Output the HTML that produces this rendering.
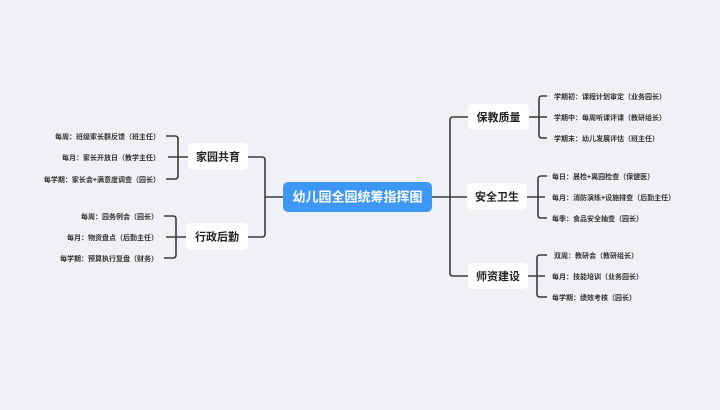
<!DOCTYPE html>
<html><head><meta charset="utf-8"><style>
html,body{margin:0;padding:0;}
body{width:720px;height:405px;background:#eff1f4;overflow:hidden;}
svg text{font-family:"Liberation Sans","Noto Sans CJK SC",sans-serif;}
</style></head><body>
<svg width="720" height="405" viewBox="0 0 720 405" xmlns="http://www.w3.org/2000/svg">
<g fill="none" stroke="#3a3a3a" stroke-width="1.6">
<path d="M283 197 H265"/>
<path d="M248 157 H262 Q265 157 265 160 V234 Q265 237 262 237 H248"/>
<path d="M432 197 H467"/>
<path d="M468 117 H453 Q450 117 450 120 V273 Q450 276 453 276 H468"/>
<path d="M188 157 H168"/>
<path d="M166 136 H175 Q178 136 178 139 V176 Q178 179 175 179 H166"/>
<path d="M186 237 H166"/>
<path d="M164 216 H173 Q176 216 176 219 V255 Q176 258 173 258 H164"/>
<path d="M529 117 H547"/>
<path d="M547 96 H542 Q539 96 539 99 V135 Q539 138 542 138 H547"/>
<path d="M527 197 H545"/>
<path d="M547 176 H541 Q538 176 538 179 V215 Q538 218 541 218 H547"/>
<path d="M528 276 H545"/>
<path d="M547 255 H540 Q537 255 537 258 V294 Q537 297 540 297 H547"/>
</g>
<rect x="283" y="182" width="149" height="30" rx="5" fill="#3d97f4"/>
<text x="357.5" y="201.5" text-anchor="middle" font-size="13" font-weight="bold" fill="#fff">幼儿园全园统筹指挥图</text>
<g fill="#fff">
<rect x="188" y="143" width="60" height="27" rx="5"/>
<rect x="186" y="223" width="62" height="27" rx="5"/>
<rect x="468" y="104" width="61" height="26" rx="5"/>
<rect x="467" y="183" width="60" height="27" rx="5"/>
<rect x="468" y="263" width="60" height="26" rx="5"/>
</g>
<g font-size="11" font-weight="bold" fill="#222" text-anchor="middle">
<text x="218" y="160.5">家园共育</text>
<text x="217" y="240.5">行政后勤</text>
<text x="498.5" y="121">保教质量</text>
<text x="497" y="200.5">安全卫生</text>
<text x="498" y="280">师资建设</text>
</g>
<g font-size="7" font-weight="bold" fill="#333" text-anchor="end">
<text x="160" y="139">每周：班级家长群反馈（班主任）</text>
<text x="160" y="160">每月：家长开放日（教学主任）</text>
<text x="160" y="182">每学期：家长会+满意度调查（园长）</text>
<text x="158" y="219">每周：园务例会（园长）</text>
<text x="158" y="240">每月：物资盘点（后勤主任）</text>
<text x="158" y="261">每学期：预算执行复盘（财务）</text>
</g>
<g font-size="7" font-weight="bold" fill="#333">
<text x="554" y="99">学期初：课程计划审定（业务园长）</text>
<text x="554" y="120">学期中：每周听课评课（教研组长）</text>
<text x="554" y="141">学期末：幼儿发展评估（班主任）</text>
<text x="552" y="179">每日：晨检+离园检查（保健医）</text>
<text x="552" y="200">每月：消防演练+设施排查（后勤主任）</text>
<text x="552" y="221">每季：食品安全抽查（园长）</text>
<text x="554" y="258">双周：教研会（教研组长）</text>
<text x="552" y="279">每月：技能培训（业务园长）</text>
<text x="552" y="300">每学期：绩效考核（园长）</text>
</g>
</svg>
</body></html>
